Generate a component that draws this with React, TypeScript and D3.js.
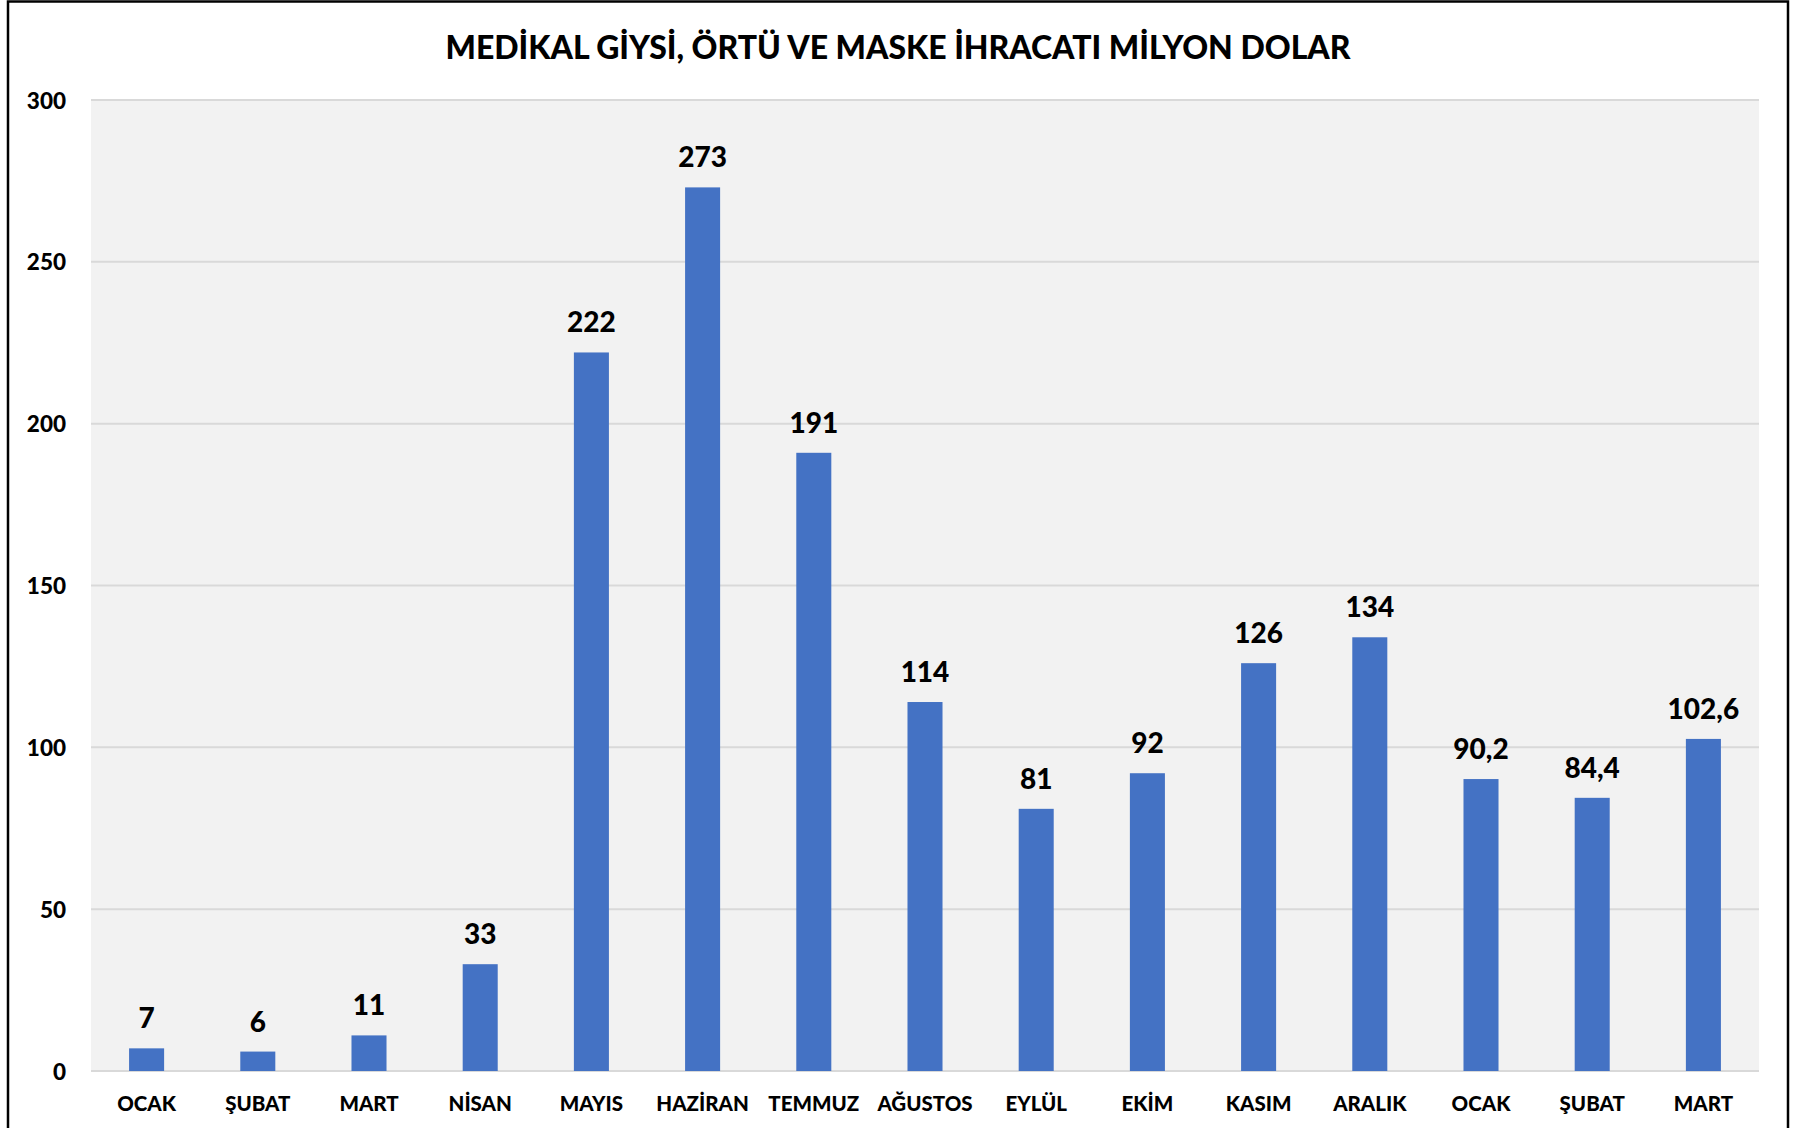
import React from "react";
import * as d3 from "d3";

const categories = ["OCAK", "ŞUBAT", "MART", "NİSAN", "MAYIS", "HAZİRAN", "TEMMUZ", "AĞUSTOS", "EYLÜL", "EKİM", "KASIM", "ARALIK", "OCAK", "ŞUBAT", "MART"];
const values = [7, 6, 11, 33, 222, 273, 191, 114, 81, 92, 126, 134, 90.2, 84.4, 102.6];
const valueLabels = ["7", "6", "11", "33", "222", "273", "191", "114", "81", "92", "126", "134", "90,2", "84,4", "102,6"];
const yTicks = [0, 50, 100, 150, 200, 250, 300];
const title = "MEDİKAL GİYSİ, ÖRTÜ VE MASKE İHRACATI MİLYON DOLAR";

const W = 1802;
const H = 1128;
const left = 91;
const right = 1759;
const top = 100;
const bottom = 1071;
const font = "Lato, 'Open Sans', sans-serif";

export default function App() {
  const x = d3.scaleBand<number>().domain(d3.range(categories.length)).range([left, right]).paddingInner(0.685).paddingOuter(0.3425);
  const y = d3.scaleLinear().domain([0, 300]).range([bottom, top]);
  return (
    <svg width={W} height={H} style={{ position: "absolute", left: 0, top: 0, background: "#fff" }}>
      <rect x={8} y={1.5} width={1780} height={1140} fill="#fff" stroke="#000" strokeWidth={2.5} />
      <rect x={left} y={top} width={right - left} height={bottom - top} fill="#F2F2F2" />
      {yTicks.map((t) => (
        <g key={t}>
          <line x1={left} x2={right} y1={y(t)} y2={y(t)} stroke="#D9D9D9" strokeWidth={2} />
          <text x={66} y={y(t)} textAnchor="end" dominantBaseline="central" fontFamily={font} fontWeight={900} fontSize={22.5} fill="#000">{t}</text>
        </g>
      ))}
      {values.map((v, i) => (
        <g key={i}>
          <rect x={x(i)} y={y(v)} width={x.bandwidth()} height={y(0) - y(v)} fill="#4472C4" />
          <text x={(x(i) as number) + x.bandwidth() / 2} y={y(v) - 20} textAnchor="middle" fontFamily={font} fontWeight={900} fontSize={28} fill="#000">{valueLabels[i]}</text>
          <text x={(x(i) as number) + x.bandwidth() / 2} y={1103} textAnchor="middle" dominantBaseline="central" fontFamily={font} fontWeight={900} fontSize={20.5} fill="#000">{categories[i]}</text>
        </g>
      ))}
      <text x={898} y={46} textAnchor="middle" dominantBaseline="central" fontFamily={font} fontWeight={900} fontSize={33} fill="#000" textLength={905} lengthAdjust="spacingAndGlyphs">{title}</text>
    </svg>
  );
}
